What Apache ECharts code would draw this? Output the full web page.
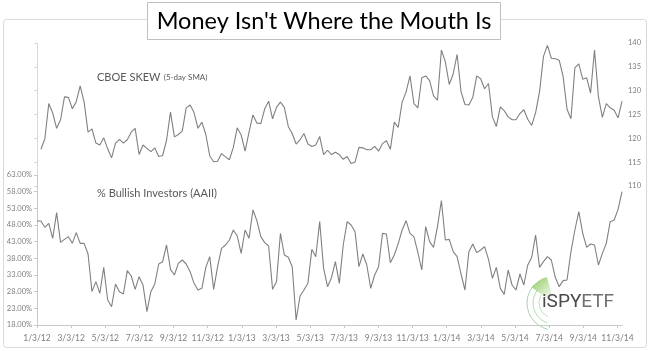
<!DOCTYPE html>
<html>
<head>
<meta charset="utf-8">
<script src="https://cdn.jsdelivr.net/npm/echarts@6/dist/echarts.min.js"></script>
<style>
  html, body { margin: 0; padding: 0; background: #fff; }
  #chart { width: 650px; height: 351px; }
</style>
</head>
<body>
<div id="chart"></div>
<script>
// weekly samples, week 0 = 1/3/12
const xTickLabels = ['1/3/12', '3/3/12', '5/3/12', '7/3/12', '9/3/12', '11/3/12',
  '1/3/13', '3/3/13', '5/3/13', '7/3/13', '9/3/13', '11/3/13',
  '1/3/14', '3/3/14', '5/3/14', '7/3/14', '9/3/14', '11/3/14']

// CBOE SKEW (5-day SMA), starts at week 1
const skewStartWeek = 1
const skewValues = [
  117.7, 119.9, 127.3, 125.3, 122.1, 123.9, 128.7, 128.6, 126.2, 127.7,
  131.0, 127.6, 121.3, 122.0, 119.0, 118.6, 120.1, 117.8, 115.9, 119.0,
  119.8, 119.0, 119.7, 121.3, 122.1, 116.6, 118.6, 117.9, 117.2, 118.0,
  116.2, 116.4, 119.6, 125.5, 120.3, 120.8, 121.5, 126.4, 127.0, 125.4,
  122.1, 123.4, 120.8, 116.3, 115.1, 115.2, 116.8, 116.1, 115.5, 118.1,
  122.2, 120.7, 117.3, 121.3, 124.9, 123.2, 123.1, 126.2, 127.8, 124.1,
  126.5, 127.6, 126.5, 122.5, 121.0, 118.8, 119.7, 121.0, 118.8, 118.3,
  118.6, 120.4, 116.6, 117.5, 116.6, 117.1, 116.6, 115.6, 116.2, 114.7,
  115.0, 118.1, 118.0, 117.6, 117.6, 118.3, 117.3, 118.9, 119.5, 117.7,
  123.4, 122.3, 127.6, 129.7, 133.1, 127.3, 126.4, 132.7, 133.1, 132.1,
  128.9, 128.0, 138.5, 136.1, 131.3, 133.5, 137.6, 129.8, 127.1, 127.0,
  128.6, 133.1, 132.5, 130.4, 131.5, 124.5, 122.5, 126.6, 125.8, 124.5,
  123.9, 123.9, 125.2, 126.0, 124.0, 122.7, 125.4, 129.8, 137.2, 139.5,
  136.8, 136.7, 136.4, 133.0, 126.1, 124.1, 134.8, 135.6, 132.4, 132.7,
  129.5, 138.5, 128.7, 124.4, 127.3, 126.4, 125.9, 124.3, 127.8
]

// % Bullish Investors (AAII), starts at week 0
const aaiiValues = [
  49.2, 49.2, 47.3, 48.5, 44.0, 51.7, 42.8, 43.7, 44.5, 42.5,
  45.7, 42.5, 42.5, 39.3, 28.0, 31.0, 27.5, 35.3, 25.5, 23.5,
  30.3, 28.0, 27.3, 34.3, 32.7, 28.7, 32.5, 30.0, 22.0, 28.0,
  30.3, 36.3, 37.0, 42.0, 34.7, 33.0, 36.5, 37.5, 36.3, 34.0,
  30.5, 28.5, 29.0, 35.3, 38.5, 28.7, 35.5, 41.0, 42.0, 43.5,
  46.5, 44.7, 39.5, 46.5, 44.0, 52.5, 49.3, 44.5, 42.7, 41.7,
  28.7, 31.0, 45.5, 39.0, 38.3, 35.5, 19.5, 26.7, 28.5, 30.5,
  40.7, 38.5, 49.0, 35.0, 29.5, 32.2, 37.0, 30.5, 42.0, 49.0,
  48.0, 46.0, 35.5, 39.3, 36.0, 29.0, 33.0, 35.5, 45.5, 45.3,
  36.7, 39.0, 42.4, 46.5, 49.3, 45.5, 44.5, 39.8, 34.5, 47.5,
  43.0, 41.3, 47.5, 55.3, 43.5, 43.7, 40.0, 38.5, 33.3, 28.5,
  40.0, 42.3, 39.7, 40.5, 41.5, 37.7, 32.0, 35.3, 29.0, 27.2,
  34.5, 30.0, 28.5, 33.3, 30.0, 36.0, 38.3, 45.0, 35.3, 37.0,
  38.5, 37.5, 32.3, 29.5, 31.3, 31.5, 40.0, 46.5, 52.0, 45.5,
  41.3, 42.3, 42.0, 36.0, 39.5, 42.5, 49.0, 49.5, 52.7, 58.0
]

// x runs in months since 1/3/12
const weekToMonth = k => k * 7 / 30.4375
const xMax = weekToMonth(149)
const tickValues = xTickLabels.map((_, i) => i * 2)

const skewData = skewValues.map((v, i) => [weekToMonth(i + skewStartWeek), v])
const aaiiData = aaiiValues.map((v, i) => [weekToMonth(i), v])

const font = 'Lato, "Liberation Sans", sans-serif'
const axisGray = '#c8c8c8'
const labelGray = '#7f7f7f'
const lineGray = '#808080'

const chart = echarts.init(document.getElementById('chart'), null, { renderer: 'canvas' })

const option = {
  animation: false,
  backgroundColor: '#fff',
  grid: [
    { left: 37, right: 28, top: 43, height: 143, outerBoundsMode: 'none' },
    { left: 37, right: 28, top: 175, bottom: 26, outerBoundsMode: 'none' }
  ],
  xAxis: [
    { type: 'value', gridIndex: 0, min: 0, max: xMax, show: false },
    {
      type: 'value',
      gridIndex: 1,
      position: 'bottom',
      min: 0,
      max: xMax,
      splitLine: { show: false },
      axisLine: { show: true, onZero: false, lineStyle: { color: axisGray, width: 1 } },
      axisTick: { show: true, length: 3, customValues: tickValues, lineStyle: { color: axisGray } },
      axisLabel: {
        customValues: tickValues,
        formatter: v => xTickLabels[Math.round(v / 2)] || '',
        color: labelGray,
        fontSize: 8.5,
        fontFamily: font,
        margin: 9
      }
    }
  ],
  yAxis: [
    {
      type: 'value',
      gridIndex: 0,
      position: 'left',
      min: 110,
      max: 140,
      interval: 5,
      splitLine: { show: false },
      axisLine: { show: true, lineStyle: { color: '#d9d9d9' } },
      axisTick: { show: true, length: 3, lineStyle: { color: '#d9d9d9' } },
      axisLabel: { show: false }
    },
    {
      type: 'value',
      gridIndex: 0,
      position: 'right',
      min: 110,
      max: 140,
      interval: 5,
      splitLine: { show: false },
      axisLine: { show: false },
      axisTick: { show: false },
      axisLabel: { color: labelGray, fontSize: 7.5, fontFamily: font, margin: 6 }
    },
    {
      type: 'value',
      gridIndex: 1,
      position: 'left',
      min: 18,
      max: 63,
      interval: 5,
      splitLine: { show: false },
      axisLine: { show: true, lineStyle: { color: axisGray } },
      axisTick: { show: true, length: 3, lineStyle: { color: axisGray } },
      axisLabel: {
        formatter: v => v.toFixed(2) + '%',
        color: labelGray,
        fontSize: 7.5,
        fontFamily: font,
        margin: 5
      }
    }
  ],
  series: [
    {
      name: 'CBOE SKEW',
      type: 'line',
      xAxisIndex: 0,
      yAxisIndex: 1,
      data: skewData,
      symbol: 'none',
      lineStyle: { color: lineGray, width: 1.1 }
    },
    {
      name: '% Bullish Investors (AAII)',
      type: 'line',
      xAxisIndex: 1,
      yAxisIndex: 2,
      data: aaiiData,
      symbol: 'none',
      lineStyle: { color: lineGray, width: 1.1 }
    }
  ],
  graphic: [
    // outer frame
    {
      type: 'rect', z: -10, silent: true,
      shape: { x: 3.5, y: 19.5, width: 643, height: 328, r: 3 },
      style: { fill: 'none', stroke: '#d9d9d9', lineWidth: 1 }
    },
    // title box
    {
      type: 'rect', z: 10,
      shape: { x: 147.5, y: 2.5, width: 353, height: 37 },
      style: { fill: '#fff', stroke: '#bfbfbf', lineWidth: 1 }
    },
    {
      type: 'text', z: 11, x: 324, y: 21,
      style: {
        text: "Money Isn't Where the Mouth Is",
        fill: '#000', font: '23.5px ' + font, align: 'center', verticalAlign: 'middle'
      }
    },
    {
      type: 'text', x: 97, y: 77,
      style: {
        text: '{a|CBOE SKEW} {b|(5-day SMA)}',
        verticalAlign: 'middle',
        rich: {
          a: { fontSize: 11, fontFamily: font, fill: '#595959' },
          b: { fontSize: 8, fontFamily: font, fill: '#595959' }
        }
      }
    },
    {
      type: 'text', x: 97, y: 193,
      style: {
        text: '% Bullish Investors (AAII)',
        fill: '#595959', font: '11px ' + font, verticalAlign: 'middle'
      }
    },
    // iSPYETF logo
    {
      type: 'sector', silent: true,
      shape: { cx: 554, cy: 303, r0: 6, r: 27, startAngle: 3.75, endAngle: 4.45 },
      style: {
        fill: new echarts.graphic.LinearGradient(0, 0, 1, 1, [
          { offset: 0, color: 'rgba(120,190,60,0.85)' },
          { offset: 1, color: 'rgba(120,190,60,0)' }
        ])
      }
    },
    {
      type: 'arc', silent: true,
      shape: { cx: 554, cy: 303, r: 27, startAngle: 1.8, endAngle: 3.9 },
      style: { stroke: 'rgba(110,190,110,0.7)', lineWidth: 0.9, fill: 'none' }
    },
    {
      type: 'arc', silent: true,
      shape: { cx: 554, cy: 303, r: 21, startAngle: 1.9, endAngle: 3.8 },
      style: { stroke: 'rgba(110,190,110,0.6)', lineWidth: 0.9, fill: 'none' }
    },
    {
      type: 'arc', silent: true,
      shape: { cx: 554, cy: 303, r: 15, startAngle: 2.0, endAngle: 3.7 },
      style: { stroke: 'rgba(110,190,110,0.5)', lineWidth: 0.9, fill: 'none' }
    },
    {
      type: 'text', x: 542, y: 302,
      style: {
        text: '{a|iSPY}{b|ETF}',
        verticalAlign: 'middle',
        rich: {
          a: { fontSize: 19, fontFamily: 'Roboto, sans-serif', fill: '#4a4a4a' },
          b: { fontSize: 19, fontFamily: 'Roboto, sans-serif', fill: '#707070' }
        }
      }
    }
  ]
}

chart.setOption(option)
</script>
</body>
</html>
